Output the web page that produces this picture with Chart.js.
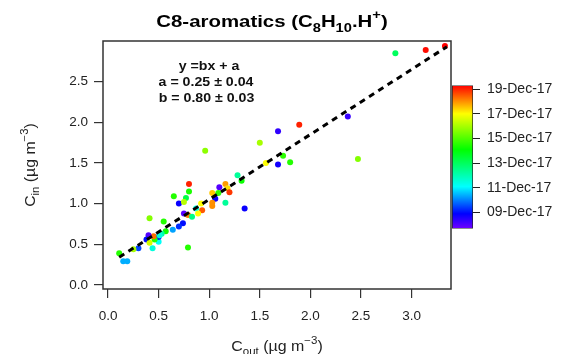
<!DOCTYPE html>
<html>
<head>
<meta charset="utf-8">
<title>C8-aromatics</title>
<script src="https://cdn.jsdelivr.net/npm/chart.js@4/dist/chart.umd.min.js"></script>
<style>
  body { margin: 0; background: #fff; }
  #wrap { position: relative; width: 573px; height: 354px; }
  #main { position: absolute; left: 0; top: 0; }
  #cbar { position: absolute; left: 447px; top: 70px; }
</style>
</head>
<body>
<div id="wrap">
  <canvas id="main" width="573" height="354"></canvas>
  <canvas id="cbar" width="126" height="174"></canvas>
</div>
<script>
// outdoor / indoor concentration and sampling day (December 2017) of each point
var cOut = [2.84, 3.14, 3.33, 1.89, 2.37, 2.47, 1.68, 1.50, 0.96, 1.73,
            1.56, 1.68, 1.80, 1.28, 1.32, 1.35, 0.80, 1.10, 1.16, 1.18,
            1.20, 1.03, 1.09, 1.06, 1.03, 1.03, 1.16, 0.65, 0.80, 0.77,
            0.70, 0.75, 0.92, 0.87, 0.93, 0.89, 0.75, 0.79, 0.83, 0.74,
            0.70, 0.64, 0.55, 0.41, 0.57, 0.53, 0.50, 0.50, 0.46, 0.45,
            0.40, 0.38, 0.41, 0.44, 0.30, 0.25, 0.11, 0.15, 0.19, 0.79, 0.51];
var cIn  = [2.85, 2.89, 2.94, 1.97, 2.07, 1.55, 1.89, 1.75, 1.65, 1.59,
            1.50, 1.48, 1.51, 1.35, 1.28, 0.94, 1.24, 1.20, 1.24, 1.19,
            1.14, 1.13, 1.13, 1.06, 1.01, 0.97, 1.01, 1.09, 1.15, 1.07,
            1.00, 1.02, 1.00, 0.94, 0.92, 0.88, 0.88, 0.86, 0.84, 0.76,
            0.72, 0.68, 0.78, 0.82, 0.66, 0.63, 0.53, 0.59, 0.56, 0.60,
            0.61, 0.56, 0.52, 0.45, 0.45, 0.44, 0.39, 0.29, 0.29, 0.46, 0.61];
var day  = [13.0, 19.2, 19.3, 19.0, 8.3, 15.6, 8.4, 16.0, 15.7, 14.6,
            17.0, 8.7, 14.5, 12.3, 14.2, 8.8, 19.0, 8.0, 17.9, 17.3,
            18.8, 17.5, 14.6, 8.8, 18.0, 18.0, 12.3, 14.5, 14.4, 13.3,
            8.8, 16.2, 17.0, 11.5, 18.5, 17.0, 8.0, 18.2, 12.6, 9.0,
            9.3, 10.3, 14.5, 15.6, 14.3, 12.2, 11.2, 9.3, 14.5, 18.3,
            8.0, 9.0, 16.5, 11.5, 9.5, 16.0, 14.5, 10.4, 10.4, 14.5, 11.5];

// fitted line y = bx + a, ends
var fitX = [0.11, 3.35];
var fitY = [0.34, 2.93];

var xTicks = [0.0, 0.5, 1.0, 1.5, 2.0, 2.5, 3.0];
var yTicks = [0.0, 0.5, 1.0, 1.5, 2.0, 2.5];
var dayTicks = [9, 11, 13, 15, 17, 19];
var dayLabels = ['09-Dec-17', '11-Dec-17', '13-Dec-17', '15-Dec-17', '17-Dec-17', '19-Dec-17'];
var dayMin = 7.7, dayMax = 19.3;

var FONT = '"Liberation Sans", Arial, sans-serif';

// rainbow colour scale (day -> rgb)
var cmap = [[7.7, [112, 0, 255]], [8.9, [0, 0, 255]], [11.1, [0, 255, 255]],
            [14.1, [0, 255, 0]], [17.0, [255, 255, 0]], [19.3, [255, 0, 0]]];
function colorFor(d) {
  if (d <= cmap[0][0]) return 'rgb(' + cmap[0][1].join(',') + ')';
  for (var i = 1; i < cmap.length; i++) {
    if (d <= cmap[i][0]) {
      var t = (d - cmap[i-1][0]) / (cmap[i][0] - cmap[i-1][0]);
      var c = cmap[i-1][1].map(function (v, k) { return Math.round(v + t * (cmap[i][1][k] - v)); });
      return 'rgb(' + c.join(',') + ')';
    }
  }
  return 'rgb(' + cmap[cmap.length-1][1].join(',') + ')';
}

// centred text with sub/superscripts: parts = [[text, ''|'sub'|'sup'], ...]
// sx stretches it horizontally (the original lettering is wide)
function richText(ctx, parts, x, y, size, weight, sx) {
  var small = size * 0.72, w = 0;
  parts.forEach(function (p) {
    ctx.font = weight + ' ' + (p[1] ? small : size) + 'px ' + FONT;
    w += ctx.measureText(p[0]).width;
  });
  ctx.save();
  ctx.translate(x, y);
  ctx.scale(sx || 1, 1);
  var cx = -w / 2;
  ctx.textAlign = 'left';
  ctx.textBaseline = 'alphabetic';
  parts.forEach(function (p) {
    ctx.font = weight + ' ' + (p[1] ? small : size) + 'px ' + FONT;
    var dy = p[1] === 'sub' ? size * 0.3 : (p[1] === 'sup' ? -size * 0.5 : 0);
    ctx.fillText(p[0], cx, dy);
    cx += ctx.measureText(p[0]).width;
  });
  ctx.restore();
}

var framePlugin = {
  id: 'frame',
  afterDatasetsDraw: function (chart) {
    var a = chart.chartArea, ctx = chart.ctx;
    ctx.save();
    ctx.strokeStyle = '#333';
    ctx.lineWidth = 1.5;
    ctx.strokeRect(a.left, a.top, a.right - a.left, a.bottom - a.top);
    ctx.restore();
  }
};

var textPlugin = {
  id: 'texts',
  afterDraw: function (chart) {
    var ctx = chart.ctx;
    ctx.save();
    ctx.fillStyle = '#000';
    richText(ctx, [['C8-aromatics (C', ''], ['8', 'sub'], ['H', ''], ['10', 'sub'], ['.H', ''], ['+', 'sup'], [')', '']],
             272, 27, 17, 'bold', 1.2);
    ctx.fillStyle = '#222';
    richText(ctx, [['C', ''], ['out', 'sub'], [' (\u00b5g m', ''], ['\u22123', 'sup'], [')', '']], 277, 351, 14, 'normal', 1.14);
    ctx.save();
    ctx.translate(35, 165);
    ctx.rotate(-Math.PI / 2);
    richText(ctx, [['C', ''], ['in', 'sub'], [' (\u00b5g m', ''], ['\u22123', 'sup'], [')', '']], 0, 0, 14, 'normal', 1.13);
    ctx.restore();
    ctx.fillStyle = '#111';
    richText(ctx, [['y =bx + a', '']], 209, 70, 13, 'bold', 1.09);
    richText(ctx, [['a = 0.25 \u00b1 0.04', '']], 206, 86, 13, 'bold', 1.09);
    richText(ctx, [['b = 0.80 \u00b1 0.03', '']], 206.5, 101.5, 13, 'bold', 1.09);
    ctx.restore();
  }
};

var points = cOut.map(function (x, i) { return { x: x, y: cIn[i] }; });
var fitLine = fitX.map(function (x, i) { return { x: x, y: fitY[i] }; });

new Chart(document.getElementById('main'), {
  type: 'scatter',
  data: {
    datasets: [
      { data: points, backgroundColor: day.map(colorFor), pointRadius: 3, pointBorderWidth: 0, order: 1 },
      { type: 'line', data: fitLine, borderColor: '#000', borderWidth: 3, borderDash: [6, 5],
        pointRadius: 0, fill: false, order: 0 }
    ]
  },
  options: {
    responsive: false,
    animation: false,
    events: [],
    layout: { padding: { left: 0, top: 41, right: 122, bottom: 0 } },
    plugins: { legend: { display: false }, tooltip: { enabled: false } },
    scales: {
      x: {
        type: 'linear', min: -0.05, max: 3.39,
        afterFit: function (s) { s.height = 65; },
        afterBuildTicks: function (s) { s.ticks = xTicks.map(function (v) { return { value: v }; }); },
        grid: { drawOnChartArea: false, tickLength: 9, color: '#333', lineWidth: 1.2 },
        border: { display: false },
        ticks: { autoSkip: false, maxRotation: 0, padding: 10, color: '#222',
                 font: { family: FONT, size: 13.5 },
                 callback: function (v) { return v.toFixed(1); } }
      },
      y: {
        type: 'linear', min: -0.05, max: 3.0,
        afterFit: function (s) { s.width = 103; },
        afterBuildTicks: function (s) { s.ticks = yTicks.map(function (v) { return { value: v }; }); },
        grid: { drawOnChartArea: false, tickLength: 9, color: '#333', lineWidth: 1.2 },
        border: { display: false },
        ticks: { autoSkip: false, padding: 6, color: '#222',
                 font: { family: FONT, size: 13.5 },
                 callback: function (v) { return v.toFixed(1); } }
      }
    }
  },
  plugins: [framePlugin, textPlugin]
});

// colour bar
new Chart(document.getElementById('cbar'), {
  type: 'bar',
  data: {
    labels: [''],
    datasets: [{
      data: [[dayMin, dayMax]],
      backgroundColor: function (c) {
        var a = c.chart.chartArea;
        if (!a) return '#888';
        var g = c.chart.ctx.createLinearGradient(0, a.bottom, 0, a.top);
        cmap.forEach(function (s) {
          g.addColorStop((s[0] - dayMin) / (dayMax - dayMin), 'rgb(' + s[1].join(',') + ')');
        });
        return g;
      },
      borderColor: '#222', borderWidth: 1, borderSkipped: false,
      barPercentage: 1, categoryPercentage: 1
    }]
  },
  options: {
    responsive: false,
    animation: false,
    events: [],
    layout: { padding: { left: 5, top: 11, right: 0, bottom: 11.3 } },
    plugins: { legend: { display: false }, tooltip: { enabled: false } },
    scales: {
      x: { display: false },
      y: {
        position: 'right', min: dayMin, max: dayMax,
        afterFit: function (s) { s.width = 100; },
        afterBuildTicks: function (s) { s.ticks = dayTicks.map(function (v) { return { value: v }; }); },
        grid: { drawOnChartArea: false, tickLength: 7, color: '#222' },
        border: { display: false },
        ticks: { autoSkip: false, padding: 7, color: '#222',
                 font: { family: FONT, size: 14 },
                 callback: function (v, i) { return dayLabels[i]; } }
      }
    }
  }
});
</script>
</body>
</html>
